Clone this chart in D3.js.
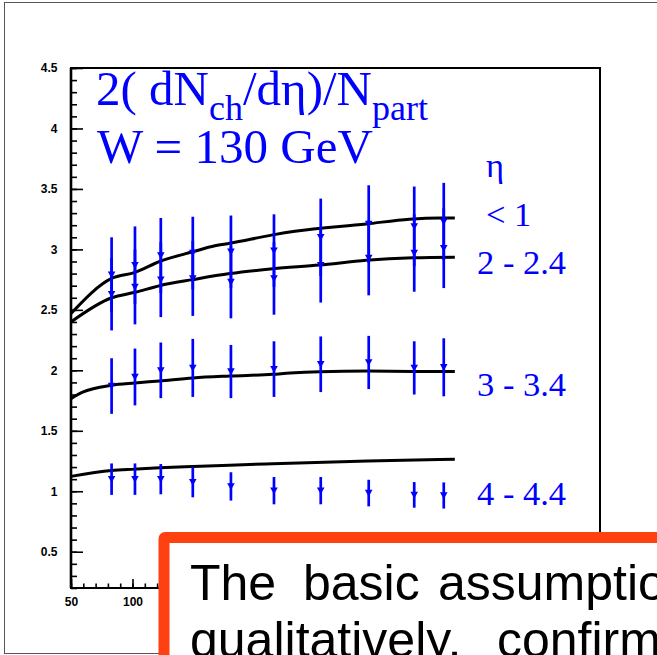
<!DOCTYPE html>
<html>
<head>
<meta charset="utf-8">
<script src="https://cdn.jsdelivr.net/npm/d3@7"></script>
<style>
  html, body { margin: 0; padding: 0; background: #fff; }
  svg { display: block; }
</style>
</head>
<body>
<svg id="chart" width="657" height="655"></svg>
<script>
// Centrality bins (number of participants) of the measured points
const npart = [83, 102, 123, 149, 180, 215, 253, 292, 329, 353];

// Measured 2(dNch/deta)/Npart per eta window, with errors
const valEta1 = [2.79, 2.87, 2.95, 2.97, 2.98, 2.99, 3.10, 3.21, 3.19, 3.23];
const errEta1 = [0.31, 0.32, 0.31, 0.30, 0.30, 0.30, 0.32, 0.32, 0.33, 0.32];
const valEta2 = [2.63, 2.69, 2.75, 2.76, 2.73, 2.76, 2.87, 2.93, 2.97, 3.01];
const errEta2 = [0.30, 0.31, 0.31, 0.31, 0.30, 0.30, 0.31, 0.31, 0.32, 0.33];
const valEta3 = [1.87, 1.945, 2.00, 2.02, 1.99, 2.01, 2.05, 2.065, 2.02, 2.025];
const errEta3 = [0.23, 0.235, 0.23, 0.24, 0.22, 0.23, 0.23, 0.22, 0.22, 0.24];
const valEta4 = [1.10, 1.10, 1.10, 1.075, 1.04, 1.005, 1.005, 0.985, 0.97, 0.965];
const errEta4 = [0.13, 0.13, 0.125, 0.125, 0.117, 0.113, 0.113, 0.11, 0.106, 0.108];

// Model curves
const curveX1 = [50, 83, 102, 122, 149, 167, 179, 214, 232, 290, 325, 350, 362];
const curveY1 = [2.47, 2.76, 2.81, 2.90, 2.98, 3.03, 3.05, 3.12, 3.15, 3.21, 3.25, 3.26, 3.26];
const curveX2 = [50, 83, 102, 122, 149, 179, 214, 252, 290, 328, 362];
const curveY2 = [2.40, 2.60, 2.645, 2.70, 2.75, 2.80, 2.84, 2.87, 2.91, 2.93, 2.935];
const curveX3 = [50, 60, 83, 102, 122, 149, 179, 214, 228, 252, 291, 328, 362];
const curveY3 = [1.766, 1.821, 1.876, 1.895, 1.912, 1.937, 1.953, 1.967, 1.978, 1.989, 1.994, 1.991, 1.991];
const curveX4 = [50, 83, 102, 122, 149, 179, 214, 291, 362];
const curveY4 = [1.123, 1.172, 1.183, 1.194, 1.205, 1.216, 1.228, 1.251, 1.265];

// Labels
const etaLabels = ["< 1", "2 - 2.4", "3 - 3.4", "4 - 4.4"];
const xTickValues = [50, 100, 150, 200, 250, 300, 350, 400, 450];
const xTickLabels = [50, 100];
const yTickValues = [0.5, 1, 1.5, 2, 2.5, 3, 3.5, 4, 4.5];

(function draw() {
  const svg = d3.select("#chart");
  const blue = "#0000ff";

  // Outer page frame
  svg.append("rect")
    .attr("x", 4.5).attr("y", 2.5).attr("width", 720).attr("height", 651)
    .attr("fill", "none").attr("stroke", "#555").attr("stroke-width", 1);

  const pl = 71, pr = 600, pt = 68, pb = 588;
  const x = d3.scaleLinear().domain([50, 480]).range([pl, pr]);
  const y = d3.scaleLinear().domain([0.2, 4.5]).range([pb, pt]);
  const tickFont = "Liberation Sans, Arial, sans-serif";

  // Y axis: ticks pointing into the plot
  const yMinor = d3.range(2, 46).map(v => v / 10);
  svg.append("g").attr("transform", `translate(${pl},0)`)
    .call(d3.axisLeft(y).tickValues(yMinor).tickSize(-6).tickFormat(""))
    .call(g => g.select(".domain").remove())
    .call(g => g.selectAll("line").attr("stroke", "#000").attr("stroke-width", 1.6));
  svg.append("g").attr("transform", `translate(${pl},0)`)
    .call(d3.axisLeft(y).tickValues(yTickValues).tickSize(-12).tickPadding(13.5).tickFormat(d3.format("")))
    .call(g => g.select(".domain").remove())
    .call(g => g.selectAll("line").attr("stroke", "#000").attr("stroke-width", 1.6))
    .call(g => g.selectAll("text").attr("font-family", tickFont)
      .attr("font-weight", "bold").attr("font-size", 12).attr("fill", "#000"));

  // X axis
  const xMinor = d3.range(50, 481, 10);
  svg.append("g").attr("transform", `translate(0,${pb})`)
    .call(d3.axisBottom(x).tickValues(xMinor).tickSize(-4.5).tickFormat(""))
    .call(g => g.select(".domain").remove())
    .call(g => g.selectAll("line").attr("stroke", "#000").attr("stroke-width", 1.6));
  svg.append("g").attr("transform", `translate(0,${pb})`)
    .call(d3.axisBottom(x).tickValues(xTickValues).tickSize(-9).tickPadding(9)
      .tickFormat(d => xTickLabels.includes(d) ? String(d) : ""))
    .call(g => g.select(".domain").remove())
    .call(g => g.selectAll("line").attr("stroke", "#000").attr("stroke-width", 1.6))
    .call(g => g.selectAll("text").filter(d => !xTickLabels.includes(d)).remove())
    .call(g => g.selectAll("text").attr("font-family", tickFont)
      .attr("font-weight", "bold").attr("font-size", 12).attr("fill", "#000"));

  // Plot frame
  svg.append("rect")
    .attr("x", pl).attr("y", pt).attr("width", pr - pl).attr("height", pb - pt)
    .attr("fill", "none").attr("stroke", "#000").attr("stroke-width", 2);
  svg.append("line").attr("x1", pl).attr("x2", pl).attr("y1", pt).attr("y2", pb)
    .attr("stroke", "#000").attr("stroke-width", 2.6);

  // Model curves
  const curveGen = d3.line().x(d => x(d[0])).y(d => y(d[1])).curve(d3.curveMonotoneX);
  [[curveX1, curveY1], [curveX2, curveY2], [curveX3, curveY3], [curveX4, curveY4]].forEach(([cx, cy]) => {
    svg.append("path")
      .attr("d", curveGen(cx.map((v, i) => [v, cy[i]])))
      .attr("fill", "none").attr("stroke", "#000").attr("stroke-width", 3)
      .attr("stroke-linejoin", "round");
  });

  // Measured points: vertical error bars with downward triangles
  const series = [[valEta1, errEta1], [valEta2, errEta2], [valEta3, errEta3], [valEta4, errEta4]];
  const pts = svg.append("g");
  series.forEach(([vals, errs]) => {
    npart.forEach((n, i) => {
      pts.append("line")
        .attr("x1", x(n)).attr("x2", x(n))
        .attr("y1", y(vals[i] + errs[i])).attr("y2", y(vals[i] - errs[i]))
        .attr("stroke", blue).attr("stroke-width", 2.7);
    });
  });
  series.forEach(([vals]) => {
    npart.forEach((n, i) => {
      const cx = x(n), cy = y(vals[i]);
      pts.append("path")
        .attr("d", `M${cx - 3.8},${cy - 3.2} L${cx + 3.8},${cy - 3.2} L${cx},${cy + 3.6} Z`)
        .attr("fill", blue);
    });
  });

  // Title
  const serif = "Liberation Serif, Times New Roman, serif";
  const title = svg.append("text").attr("x", 96).attr("y", 105)
    .attr("font-family", serif).attr("font-size", 49).attr("fill", blue);
  title.append("tspan").text("2( dN");
  title.append("tspan").attr("font-size", 36).attr("dy", 15).text("ch");
  title.append("tspan").attr("dy", -15).text("/dη)/N");
  title.append("tspan").attr("font-size", 36).attr("dy", 15).text("part");
  svg.append("text").attr("x", 97).attr("y", 162.7)
    .attr("font-family", serif).attr("font-size", 49).attr("fill", blue)
    .text("W = 130 GeV");

  // Eta window labels
  svg.append("text").attr("x", 486).attr("y", 177)
    .attr("font-family", serif).attr("font-size", 34.5).attr("fill", blue).text("η");
  const labelPos = [[486, 226], [477, 274.3], [477, 395.7], [477, 505]];
  etaLabels.forEach((t, i) => {
    svg.append("text").attr("x", labelPos[i][0]).attr("y", labelPos[i][1])
      .attr("font-family", serif).attr("font-size", 34.5).attr("fill", blue).text(t);
  });

  // Callout box
  svg.append("rect")
    .attr("x", 164).attr("y", 537.5).attr("width", 700).attr("height", 300).attr("rx", 1)
    .attr("fill", "#fff").attr("stroke", "#ff4010").attr("stroke-width", 11);
  const sans = "Liberation Sans, Arial, sans-serif";
  const calloutWords = [
    ["The", 190, 600], ["basic", 303, 600], ["assumptions", 438, 600],
    ["qualitatively,", 190, 657], ["confirmed", 497, 657]
  ];
  calloutWords.forEach(([w, wx, wy]) => {
    svg.append("text").attr("x", wx).attr("y", wy)
      .attr("font-family", sans).attr("font-size", 50).attr("fill", "#000").text(w);
  });
})();
</script>
</body>
</html>
